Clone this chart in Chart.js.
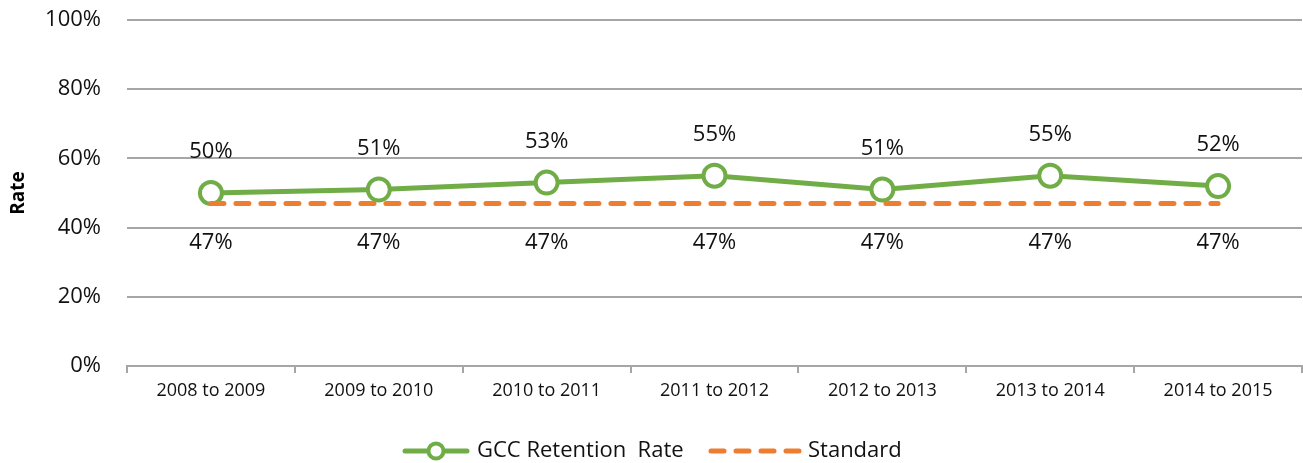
<!DOCTYPE html>
<html lang="en">
<head>
    <meta charset="UTF-8">
    <title>GCC Retention Rate</title>
    <script src="https://cdn.jsdelivr.net/npm/chart.js"></script>
    <style>
        html, body { margin: 0; padding: 0; background: #fff; overflow: hidden; }
        .boxGrafico { width: 1303px; height: 463px; position: relative; }
    </style>
</head>
<body>
    <div class="boxGrafico">
        <canvas id="myChartRetention"></canvas>
    </div>

<script>
    // data
    const years = ['2008 to 2009', '2009 to 2010', '2010 to 2011', '2011 to 2012', '2012 to 2013', '2013 to 2014', '2014 to 2015'];
    const retentionRate = [50, 51, 53, 55, 51, 55, 52];
    const standardRate = [47, 47, 47, 47, 47, 47, 47];
    const yTicks = [0, 20, 40, 60, 80, 100];

    const fonte = '"Open Sans", "Noto Sans", sans-serif';

    // value labels above the green line and below the orange one
    const etiquetasPlugin = {
        id: 'etiquetas',
        afterDatasetsDraw(chart) {
            const ctx = chart.ctx;
            ctx.save();
            ctx.font = '22px ' + fonte;
            ctx.fillStyle = '#111';
            ctx.textAlign = 'center';
            ctx.textBaseline = 'middle';
            chart.data.datasets.forEach((ds, i) => {
                const meta = chart.getDatasetMeta(i);
                meta.data.forEach((pt, j) => {
                    ctx.fillText(ds.data[j] + '%', pt.x, pt.y + ds.labelOffset);
                });
            });
            ctx.restore();
        }
    };

    // legend at the bottom: line with marker, dashed line
    const legendaPlugin = {
        id: 'legenda',
        afterDraw(chart) {
            const ctx = chart.ctx;
            const y = 451;
            ctx.save();
            ctx.lineCap = 'round';

            ctx.strokeStyle = '#70ad47';
            ctx.lineWidth = 5;
            ctx.beginPath();
            ctx.moveTo(405, y);
            ctx.lineTo(467, y);
            ctx.stroke();
            ctx.beginPath();
            ctx.arc(436, y, 7.5, 0, Math.PI * 2);
            ctx.fillStyle = '#fff';
            ctx.fill();
            ctx.lineWidth = 4;
            ctx.stroke();

            ctx.strokeStyle = '#ed7d31';
            ctx.lineWidth = 5;
            ctx.setLineDash([13, 12]);
            ctx.beginPath();
            ctx.moveTo(711, y);
            ctx.lineTo(803, y);
            ctx.stroke();
            ctx.setLineDash([]);

            ctx.font = '22px ' + fonte;
            ctx.fillStyle = '#111';
            ctx.textAlign = 'left';
            ctx.textBaseline = 'middle';
            ctx.fillText('GCC Retention  Rate', 477, y);
            ctx.fillText('Standard', 808, y);
            ctx.restore();
        }
    };

    const ctxRetention = document.getElementById('myChartRetention');

    const myChartRetention = new Chart(ctxRetention, {
        type: 'line',
        data: {
            labels: years,
            datasets: [
                {
                    label: 'GCC Retention  Rate',
                    data: retentionRate,
                    borderColor: '#70ad47',
                    borderWidth: 5,
                    pointRadius: 11,
                    pointBorderWidth: 4,
                    pointBackgroundColor: '#fff',
                    pointBorderColor: '#70ad47',
                    tension: 0,
                    order: 2,
                    labelOffset: -41
                },
                {
                    label: 'Standard',
                    data: standardRate,
                    borderColor: '#ed7d31',
                    borderWidth: 5,
                    borderDash: [13, 12],
                    borderCapStyle: 'round',
                    pointRadius: 0,
                    tension: 0,
                    order: 1,
                    labelOffset: 39
                }
            ]
        },
        options: {
            responsive: true,
            maintainAspectRatio: false,
            animation: false,
            layout: {
                autoPadding: false,
                padding: { top: 20, right: 1, left: 0, bottom: 0 }
            },
            plugins: {
                legend: { display: false },
                tooltip: { enabled: false }
            },
            scales: {
                x: {
                    offset: true,
                    afterFit: (axis) => {
                        axis.height = 97;
                        axis.paddingLeft = 0;
                        axis.paddingRight = 0;
                    },
                    grid: {
                        offset: true,
                        drawOnChartArea: false,
                        drawTicks: true,
                        tickLength: 7,
                        color: '#a6a6a6',
                        lineWidth: 2
                    },
                    border: { display: true, color: '#a6a6a6', width: 2 },
                    ticks: {
                        color: '#111',
                        padding: 7,
                        maxRotation: 0,
                        font: { family: fonte, size: 18 }
                    }
                },
                y: {
                    min: 0,
                    max: 100,
                    afterFit: (axis) => {
                        axis.width = 127;
                        axis.paddingTop = 0;
                        axis.paddingBottom = 0;
                    },
                    afterBuildTicks: (axis) => { axis.ticks = yTicks.map(v => ({ value: v })); },
                    grid: {
                        drawTicks: false,
                        color: '#a6a6a6',
                        lineWidth: 2
                    },
                    border: { display: false },
                    ticks: {
                        color: '#111',
                        padding: 26,
                        font: { family: fonte, size: 22 },
                        callback: (v) => v + '%'
                    },
                    title: {
                        display: true,
                        text: 'Rate',
                        color: '#000',
                        padding: { top: 7, bottom: 0 },
                        font: { family: fonte, size: 19, weight: 'bold' }
                    }
                }
            }
        },
        plugins: [etiquetasPlugin, legendaPlugin]
    });
</script>
</body>
</html>
